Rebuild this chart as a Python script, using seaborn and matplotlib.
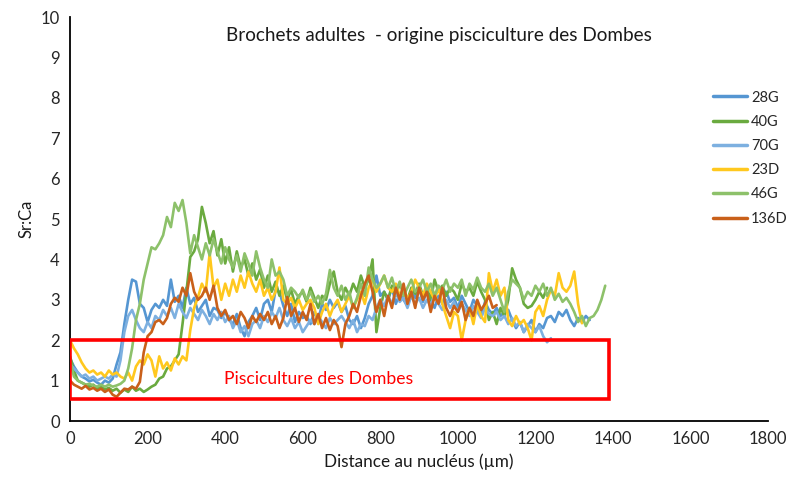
import numpy as np
import pandas as pd
import matplotlib
matplotlib.use("Agg")
import matplotlib.pyplot as plt
import seaborn as sns
from matplotlib.patches import Rectangle

# Sr:Ca profiles, one value every 10 µm from the nucleus
pas = 10

s_28G = [1.55, 1.35, 1.2, 1.1, 1.05, 0.98, 1.02, 0.95, 0.9, 1.0,
         0.95, 1.05, 1.4, 1.7, 2.4, 3.0, 3.5, 3.45, 2.9, 2.8,
         2.45, 2.75, 2.9, 2.8, 3.0, 2.85, 3.5, 2.95, 3.1, 2.8,
         3.3, 2.9, 3.05, 2.7, 2.85, 3.0, 2.6, 2.8, 2.75, 2.55,
         2.7, 2.5, 2.4, 2.65, 2.3, 2.1, 2.45, 2.6, 2.8, 2.5,
         2.9, 3.0, 2.7, 3.25, 3.2, 2.85, 2.6, 2.9, 2.45, 2.7,
         2.55, 2.6, 2.4, 2.7, 2.5, 2.9, 2.75, 3.0, 2.8, 2.95,
         2.7, 2.85, 2.5, 2.4, 2.6, 2.3, 2.55, 2.9, 3.1, 3.6,
         3.1, 3.2, 3.0, 3.3, 2.9, 3.15, 3.0, 2.85, 3.2, 3.05,
         3.3, 2.95, 3.2, 3.0, 2.8, 3.1, 2.9, 3.2, 2.95, 3.05,
         2.8, 3.1, 2.9, 2.7, 3.0, 2.85, 2.6, 2.95, 2.75, 2.65,
         2.8, 2.6, 2.7, 2.75, 2.5, 2.3, 2.45, 2.2, 2.35, 2.5,
         2.2, 2.4, 2.3, 2.55, 2.6, 2.45, 2.7, 2.6, 2.75, 2.5,
         2.35, 2.55, 2.45, 2.6, 2.5]

s_40G = [1.6, 1.25, 1.0, 0.95, 0.9, 0.85, 0.9, 0.8, 0.85, 0.78,
         0.82, 0.75, 0.8, 0.7, 0.78, 0.72, 0.85, 0.75, 0.8, 0.72,
         0.78, 0.85, 0.9, 1.05, 1.1, 1.3, 1.35, 1.5, 1.65, 2.4,
         3.2, 4.06, 4.2, 4.5, 5.3, 4.9, 4.4, 4.7, 4.1, 4.5,
         3.9, 4.3, 3.7, 4.2, 3.8, 4.0, 3.6, 3.9, 3.5, 3.75,
         3.3, 3.6, 3.2, 3.45, 3.1, 3.35, 3.0, 3.25, 2.9, 3.1,
         3.2, 2.95, 3.3, 3.05, 2.8, 3.1, 3.0, 3.4, 3.7, 3.2,
         3.0, 3.3, 3.1, 3.4, 3.2, 3.6, 3.3, 3.5, 4.0, 2.2,
         2.8, 3.2, 3.0, 3.35, 3.1, 3.4, 3.2, 3.0, 3.3, 3.15,
         3.4, 3.1, 3.3, 3.0, 3.5, 3.2, 3.35, 3.1, 3.3, 3.2,
         3.0, 3.4, 3.2, 3.3, 3.1, 3.45, 3.2, 3.0, 2.5, 2.7,
         2.4, 2.8, 2.6, 3.0, 3.78, 3.5, 3.3, 2.9, 2.8, 2.85,
         3.0, 3.2, 3.05, 3.3]

s_70G = [1.4, 1.3, 1.2, 1.1, 1.15, 1.05, 1.1, 1.0, 1.05, 1.1,
         1.05, 1.15, 1.1, 1.5, 2.2, 2.6, 2.75, 2.5, 2.3, 2.2,
         2.45, 2.3, 2.6, 2.5, 2.75, 2.6, 2.8, 2.55, 2.9, 2.7,
         2.55, 2.8, 2.65, 2.5, 2.75, 2.6, 2.4, 2.65, 2.5, 2.7,
         2.45, 2.6, 2.3, 2.5, 2.2, 2.35, 2.1, 2.4, 2.5, 2.3,
         2.6, 2.45, 2.7, 2.55, 2.8, 2.5, 2.35, 2.55, 2.3, 2.45,
         2.2, 2.35, 2.5, 2.4, 2.6, 2.45, 2.3, 2.55, 2.4, 2.5,
         2.6, 2.45, 2.3, 2.5, 2.2, 2.4, 2.35, 2.6, 2.5, 2.8,
         3.0, 2.85, 3.1, 2.9, 3.2, 2.95, 3.05, 2.8, 3.1, 2.9,
         3.05, 2.8, 3.0, 2.85, 3.15, 2.9, 2.75, 3.0, 2.8, 2.95,
         2.7, 2.9, 2.75, 2.6, 2.85, 2.7, 2.55, 2.8, 2.65, 2.6,
         2.7, 2.5, 2.6, 2.4, 2.55, 2.35, 2.45, 2.2, 2.4, 2.3,
         2.2, 2.35, 2.1, 1.95, 2.05]

s_23D = [2.0, 1.8, 1.65, 1.45, 1.3, 1.2, 1.25, 1.15, 1.2, 1.1,
         1.25, 1.15, 1.2, 1.1, 1.05, 1.2, 1.0, 1.35, 1.5, 1.4,
         1.65, 1.5, 1.1, 1.6, 1.3, 1.45, 1.25, 1.55, 1.4, 1.6,
         1.5, 2.25, 2.8, 3.07, 3.4, 3.2, 4.15, 3.3, 3.5, 3.0,
         3.4, 3.1, 3.5, 3.2, 3.6, 3.3, 3.7, 3.4, 3.2, 3.5,
         3.1, 3.3, 3.0, 3.2, 3.8, 3.0, 2.9, 3.05, 2.8, 3.0,
         2.75, 2.9, 3.0, 2.8, 2.4, 2.7, 2.9, 2.6, 2.85, 3.0,
         2.7, 2.9, 3.1, 2.8, 3.0, 3.2, 2.9, 3.3, 3.5, 3.2,
         3.4, 3.6, 3.3, 3.2, 3.4, 3.1, 3.3, 3.0, 3.2, 3.5,
         3.3, 3.1, 3.4, 3.2, 3.0, 3.3, 2.9, 2.6, 2.3, 2.7,
         2.6, 2.0, 2.5, 2.8, 2.4, 2.9, 2.6, 2.45, 3.66, 3.2,
         3.5, 3.1, 3.3, 2.5, 2.35, 2.6, 2.4, 2.5, 2.3, 2.0,
         2.7, 2.85, 2.6, 3.0, 3.25, 3.1, 3.66, 3.3, 3.2, 3.35,
         3.7, 2.9, 2.42]

s_46G = [1.5, 1.1, 1.0, 0.95, 0.9, 0.92, 0.88, 0.85, 0.9, 0.85,
         0.9, 0.85, 0.88, 0.92, 1.0, 1.3, 1.8, 2.5, 2.9, 3.5,
         3.9, 4.3, 4.25, 4.4, 4.6, 5.05, 4.8, 5.4, 5.2, 5.47,
         4.9, 4.15, 4.6, 4.3, 4.0, 4.4, 4.1, 4.5, 4.2, 3.9,
         4.3, 4.0, 3.8, 4.1, 3.7, 4.15, 3.9, 3.6, 4.2, 3.8,
         3.5, 3.3, 4.0, 3.6, 3.7, 3.5, 3.1, 3.3, 3.2, 3.05,
         3.25, 3.0, 3.2, 2.95, 3.1, 2.9, 3.15, 3.74, 3.3, 3.1,
         3.35, 3.0, 3.2, 2.8, 3.05, 3.4, 3.1, 3.8, 3.5, 3.3,
         3.4, 3.6, 3.3, 3.55, 3.2, 3.45, 3.1, 3.3, 3.5, 3.2,
         3.3, 3.5, 3.2, 3.4, 3.1, 3.35, 3.25, 3.5, 3.2, 3.4,
         3.3, 3.5, 3.1, 3.4, 3.25, 3.55, 3.3, 3.2, 3.4, 3.1,
         3.3, 3.0, 2.7, 3.2, 3.5, 3.4, 3.3, 3.0, 3.2, 3.1,
         3.35, 3.2, 3.4, 3.1, 3.3, 3.0, 3.15, 2.95, 3.05, 2.9,
         2.7, 2.45, 2.6, 2.35, 2.55, 2.6, 2.75, 3.0, 3.35]

s_136D = [1.0, 0.9, 0.85, 0.8, 0.87, 0.78, 0.82, 0.75, 0.8, 0.72,
          0.78, 0.65, 0.6, 0.7, 0.8, 0.78, 0.85, 0.8, 0.97, 1.7,
          2.1, 2.2, 2.45, 2.5, 2.4, 2.55, 2.9, 3.05, 2.95, 3.3,
          3.1, 3.66, 3.2, 3.0, 3.1, 3.3, 3.0, 3.35, 2.8, 2.6,
          2.75, 2.5, 2.6, 2.4, 2.7, 2.55, 2.3, 2.6, 2.45, 2.65,
          2.5, 2.7, 2.4, 2.6, 2.3, 2.55, 3.07, 2.6, 2.8, 2.45,
          2.7, 2.5, 2.9, 2.4, 2.65, 2.3, 2.55, 2.25, 2.5, 2.35,
          1.83, 2.4, 2.6, 2.9, 2.7, 3.1, 3.4, 3.6, 3.2, 2.7,
          3.0, 2.6, 3.1, 2.8, 3.3, 3.0, 3.4, 2.9, 3.2, 2.8,
          3.3, 3.0, 3.2, 2.7, 3.1, 2.9, 3.3, 2.8, 2.6, 2.85,
          2.7, 2.95, 2.5, 2.8, 2.6, 3.0, 2.75, 2.9, 3.1, 2.8,
          2.87]

series = {'28G': s_28G, '40G': s_40G, '70G': s_70G,
          '23D': s_23D, '46G': s_46G, '136D': s_136D}
couleurs = {'28G': '#5596D2', '40G': '#6AAA3F', '70G': '#7DB0E0',
            '23D': '#FFC81E', '46G': '#8DC16A', '136D': '#C9601A'}

rows = []
for nom, vals in series.items():
    for i, v in enumerate(vals):
        rows.append({'poisson': nom, 'distance': i * pas, 'srca': v})
df = pd.DataFrame(rows)

sns.set_style('white')
plt.rcParams['font.family'] = ['Lato', 'DejaVu Sans']

fig = plt.figure(figsize=(7.87, 4.87), dpi=100)
ax = fig.add_axes([0.089, 0.1355, 0.887, 0.8295])

sns.lineplot(data=df, x='distance', y='srca', hue='poisson', palette=couleurs,
             hue_order=list(series.keys()), linewidth=1.9, ax=ax, legend=True)

ax.add_patch(Rectangle((0, 0.55), 1390, 1.45, fill=False, edgecolor='#FF0000', linewidth=2.6, zorder=5))
ax.text(640, 1.04, 'Pisciculture des Dombes', color='#FF0000', fontsize=12.6, ha='center', va='center')
ax.text(0.529, 0.955, 'Brochets adultes  - origine pisciculture des Dombes', transform=ax.transAxes,
        fontsize=13.6, ha='center', va='center', color='#1a1a1a')

ax.set_xlim(0, 1800)
ax.set_ylim(0, 10)
ax.set_xticks(range(0, 1801, 200))
ax.set_yticks(range(0, 11))
ax.set_xlabel('Distance au nucléus (µm)', fontsize=12.3, color='#1a1a1a')
ax.set_ylabel('Sr:Ca', fontsize=12, color='#1a1a1a')
ax.tick_params(axis='both', direction='inout', length=8, width=1.2, labelsize=12, colors='#000000',
               labelcolor='#262626')
for s in ['top', 'right']:
    ax.spines[s].set_visible(False)
for s in ['left', 'bottom']:
    ax.spines[s].set_color('#000000')
    ax.spines[s].set_linewidth(1.3)

leg = ax.legend(loc='upper left', bbox_to_anchor=(0.921, 0.818), frameon=False, fontsize=10.5,
                handlelength=2.3, handletextpad=0.3, labelspacing=0.7, borderpad=0, borderaxespad=0)
for line in leg.get_lines():
    line.set_linewidth(2.5)

fig.savefig('out.png', dpi=100)
